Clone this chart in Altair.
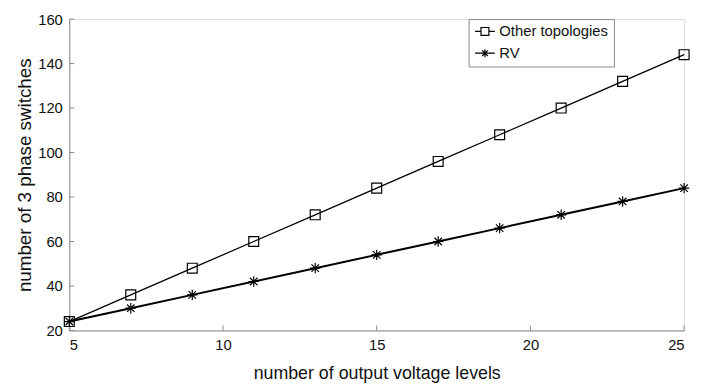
import altair as alt
import pandas as pd

# ---- data ----
levels = [5, 7, 9, 11, 13, 15, 17, 19, 21, 23, 25]
other_topologies = [24, 36, 48, 60, 72, 84, 96, 108, 120, 132, 144]
rv = [24, 30, 36, 42, 48, 54, 60, 66, 72, 78, 84]
series_names = ["Other topologies", "RV"]
x_ticks = [5, 10, 15, 20, 25]
y_ticks = [20, 40, 60, 80, 100, 120, 140, 160]

df = pd.DataFrame({
    "level": levels * 2,
    "count": other_topologies + rv,
    "series": [series_names[0]] * len(levels) + [series_names[1]] * len(levels),
})
xt = pd.DataFrame({"level": x_ticks})
yt = pd.DataFrame({"count": y_ticks})

W, H = 622, 315
FONT = "Liberation Sans"
AXIS_GRAY = "#8a8a8a"

SQUARE = "M-1,-1H1V1H-1Z"
STAR = "M-1,0H1M0,-1V1M-0.72,-0.72L0.72,0.72M-0.72,0.72L0.72,-0.72"
SQUARE_LEG = "M-2.5,0H-1M1,0H2.5M-1,-1H1V1H-1Z"
STAR_LEG = "M-2.5,0H2.5M0,-1V1M-0.72,-0.72L0.72,0.72M-0.72,0.72L0.72,-0.72"

xscale = alt.Scale(domain=[5, 25], nice=False, zero=False)
yscale = alt.Scale(domain=[20, 160], nice=False, zero=False)

X = alt.X("level:Q", scale=xscale,
          axis=alt.Axis(values=x_ticks, title="number of output voltage levels",
                        ticks=False, grid=False, labelPadding=7, titlePadding=13,
                        domainColor=AXIS_GRAY, labelFontSize=15, titleFontSize=18,
                        labelFont=FONT, titleFont=FONT, titleFontWeight="normal",
                        labelColor="#111", titleColor="#111"))
Y = alt.Y("count:Q", scale=yscale,
          axis=alt.Axis(values=y_ticks, title="number of 3 phase switches",
                        ticks=False, grid=False, labelPadding=7, titlePadding=3,
                        domainColor=AXIS_GRAY, labelFontSize=15, titleFontSize=19,
                        labelFont=FONT, titleFont=FONT, titleFontWeight="normal",
                        labelColor="#111", titleColor="#111"))

base = alt.Chart(df)

line_other = base.transform_filter(alt.datum.series == series_names[0]).mark_line(
    color="black", strokeWidth=1.3).encode(x=X, y=Y)
line_rv = base.transform_filter(alt.datum.series == series_names[1]).mark_line(
    color="black", strokeWidth=2).encode(x=X, y=Y)

pts_other = base.transform_filter(alt.datum.series == series_names[0]).mark_point(
    shape=SQUARE, size=100, filled=False, stroke="black", strokeWidth=1.2, opacity=1
).encode(x=X, y=Y)
pts_rv = base.transform_filter(alt.datum.series == series_names[1]).mark_point(
    shape=STAR, size=110, filled=False, stroke="black", strokeWidth=1.2, opacity=1
).encode(x=X, y=Y)

legend_layer = base.mark_point(filled=False, opacity=0).encode(
    x=X, y=Y,
    shape=alt.Shape("series:N",
                    scale=alt.Scale(domain=series_names, range=[SQUARE_LEG, STAR_LEG]),
                    legend=alt.Legend(title=None, orient="none", legendX=404, legendY=0,
                                      labelFont=FONT, labelFontSize=15, labelColor="#111",
                                      symbolSize=64, symbolStrokeColor="black",
                                      symbolFillColor="transparent", symbolStrokeWidth=1.2,
                                      symbolOpacity=1, symbolOffset=4, labelOffset=7,
                                      rowPadding=6, padding=5, strokeColor=AXIS_GRAY,
                                      fillColor="white")),
)

xtick_layer = alt.Chart(xt).mark_rule(color=AXIS_GRAY, strokeWidth=1).encode(
    x=X, y=alt.value(H), y2=alt.value(H - 5))
ytick_layer = alt.Chart(yt).mark_rule(color=AXIS_GRAY, strokeWidth=1).encode(
    y=Y, x=alt.value(0), x2=alt.value(5))

chart = alt.layer(
    line_other, line_rv, xtick_layer, ytick_layer, pts_other, pts_rv, legend_layer
).properties(
    width=W, height=H,
    autosize=alt.AutoSizeParams(type="none"),
    padding={"left": 62, "top": 9, "right": 10, "bottom": 56},
).configure_view(stroke=None).configure(background="white")

chart.save("out.html", embed_options={"renderer": "svg", "actions": False})
